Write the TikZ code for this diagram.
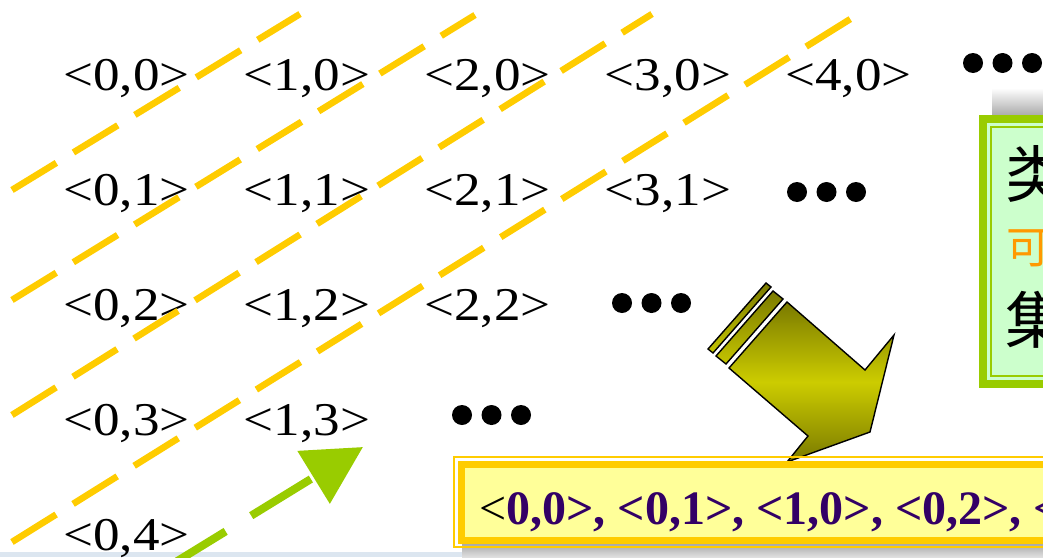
\documentclass[tikz,border=0pt]{standalone}
\usepackage{fontspec}
\setmainfont{Liberation Serif}
\newfontfamily\paarfont[FakeStretch=1.13]{Liberation Serif}
\newfontfamily\cjkfont{Noto Sans CJK SC}
\usepackage{tikz}
\usetikzlibrary{arrows.meta}
\definecolor{gelb}{HTML}{FFCC00}
\definecolor{hellgelb}{HTML}{FFFF99}
\definecolor{gruen}{HTML}{99CC00}
\definecolor{hellgruen}{HTML}{CCFFCC}
\definecolor{lila}{HTML}{330066}
\definecolor{oliv}{HTML}{7A7A00}
\definecolor{senf}{HTML}{CCCC00}
\definecolor{orangeton}{HTML}{FF9900}
\definecolor{hellblau}{HTML}{DCE6F0}
\tikzset{punkte/.pic={\foreach \i in {0,1,2} \fill (\i*29.5,0) circle[radius=10];}}

\begin{document}
\begin{tikzpicture}[x=0.5pt, y=-0.5pt,
					paar/.style={font=\paarfont\fontsize{23.5pt}{23.5pt}\selectfont, inner sep=0pt, anchor=base west},
					diag/.style={gelb, line width=3.3pt, dash pattern=on 26pt off 10pt},
					gpfeil/.style={gruen, line width=4pt, dash pattern=on 35pt off 15pt, -{Triangle[length=29pt, width=30pt]}},
					blockpfeil/.style={draw=black, line width=0.7pt, top color=oliv, bottom color=oliv, middle color=senf},
					streifen/.style={draw=black, line width=0.7pt, top color=oliv, bottom color=senf!90!oliv},
					cjk/.style={font=\cjkfont\fontsize{31pt}{31pt}\selectfont, inner sep=0pt, anchor=west}]
					%Bildbereich
					\useasboundingbox (0,0) rectangle (1043,557);
					\clip (0,0) rectangle (1043,557);
					%Hintergrund unten und Schatten
					\fill[hellblau] (0,552) rectangle (1043,557);
					\fill[top color=gray!70, bottom color=gray!25] (462,543) rectangle (1043,557);
					\fill[top color=white, bottom color=gray!75] (992,88) rectangle (1043,119);
					%Paare setzen
					\foreach \j/\n in {0/4,1/3,2/2,3/1,4/0}
						\foreach \i in {0,...,\n}
							\node[paar] (p\i\j) at (63+180.5*\i, 90+115*\j) {<\i,\j>};
					%Punkte
					\pic at (973,63) {punkte};
					\pic at (797,192) {punkte};
					\pic at (622,303) {punkte};
					\pic at (462,415) {punkte};
					%Diagonalen zeichnen
					\draw[diag] (12,190) -- (300,14);
					\draw[diag] (12,300) -- (475,15);
					\draw[diag] (12,415) -- (652,14);
					\draw[diag] (12,542) -- (860,13);
					%gruener Pfeil
					\coordinate (gs) at (166,568);
					\coordinate (gt) at (363,447);
					\draw[gpfeil] (gs) -- (gt);
					%Blockpfeil
					\path[streifen] (708,349) -- (766,283) -- (771,287) -- (713,353) -- cycle;
					\path[streifen] (716,356) -- (773,291) -- (783,299) -- (726,364) -- cycle;
					\path[blockpfeil] (787,302) -- (865,370) -- (894,335) -- (870,432) -- (787,462) -- (808,436) -- (729,368) -- cycle;
					%Kasten rechts
					\draw[gruen, line width=4pt, fill=hellgruen] (983,119) rectangle (1060,384);
					\draw[gruen, line width=0.6pt] (991,127) rectangle (1060,376);
					\node[cjk] (z1) at (1005,174) {类};
					\node[cjk, text=orangeton, font=\cjkfont\fontsize{22pt}{22pt}\selectfont] (z2) at (1006,248) {可};
					\node[cjk] (z3) at (1005,320) {集};
					%Kasten unten
					\draw[gelb, line width=0.8pt] (454,457) rectangle (1060,547);
					\draw[gelb, line width=3.5pt, fill=hellgelb] (461,464) rectangle (1060,540);
					\node[anchor=base west, inner sep=0pt, text=lila, font=\bfseries\fontsize{24pt}{24pt}\selectfont] (folge) at (479,524)
						{\textcolor{black}{\mdseries <}0,0>, <0,1>, <1,0>, <0,2>, <};
				\end{tikzpicture}
\end{document}
